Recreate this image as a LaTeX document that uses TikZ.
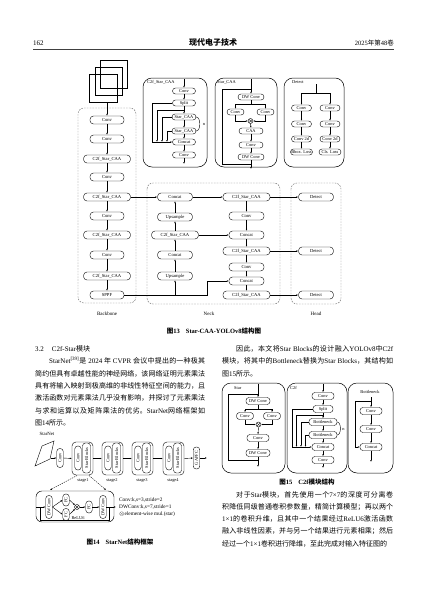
\documentclass[tikz,border=0pt]{standalone}
\usepackage{fontspec}
\setmainfont{Liberation Serif}
\newfontfamily\cjk{Noto Sans CJK SC}
\usetikzlibrary{arrows.meta}
\XeTeXinterchartokenstate=1
\newXeTeXintercharclass\CJKcls
\makeatletter
\count@="3000
\loop \XeTeXcharclass\count@=\CJKcls \ifnum\count@<"303F \advance\count@ by 1 \repeat
\count@="4E00
\loop \XeTeXcharclass\count@=\CJKcls \ifnum\count@<"9FFF \advance\count@ by 1 \repeat
\count@="FF00
\loop \XeTeXcharclass\count@=\CJKcls \ifnum\count@<"FFEF \advance\count@ by 1 \repeat
\makeatother
\XeTeXinterchartoks 0 \CJKcls = {\begingroup\cjk}
\XeTeXinterchartoks 4095 \CJKcls = {\begingroup\cjk}
\XeTeXinterchartoks \CJKcls 0 = {\endgroup}
\XeTeXinterchartoks \CJKcls 4095 = {\endgroup}
\XeTeXlinebreaklocale "zh"
\XeTeXlinebreakskip=0pt plus 2pt minus 0.2pt
\newcommand\dtxt{\fontsize{4.6}{5}\selectfont}
\newcommand\stxt{\fontsize{4.4}{5}\selectfont}
\newcommand\bodytxt{\fontsize{7}{12.3}\selectfont}
\begin{document}
\begin{tikzpicture}[x=1pt,y=-1pt,
  every node/.style={inner sep=0pt},
  ln/.style={line width=0.4pt},
  arr/.style={line width=0.4pt,-{Latex[length=2pt,width=1.6pt]}},
  pill/.style={draw,line width=0.4pt,rounded corners=3.5pt,minimum height=8pt,font=\dtxt},
  sp/.style={draw,line width=0.4pt,rounded corners=3pt,minimum height=6pt,font=\stxt},
  vp/.style={draw,line width=0.4pt,rounded corners=3pt,minimum width=6.5pt,font=\stxt},
  panel/.style={draw,line width=0.5pt,rounded corners=9pt},
  dbox/.style={draw=black!55,line width=0.45pt,dash pattern=on 1.6pt off 1.2pt,rounded corners=6pt},
  otm/.style={draw,circle,line width=0.4pt,minimum size=5pt,
    path picture={\draw[line width=0.35pt] ([shift={(-1.7pt,-1.7pt)}]path picture bounding box.center) -- ([shift={(1.7pt,1.7pt)}]path picture bounding box.center);
      \draw[line width=0.35pt] ([shift={(-1.7pt,1.7pt)}]path picture bounding box.center) -- ([shift={(1.7pt,-1.7pt)}]path picture bounding box.center);}},
  lbl/.style={font=\stxt},
  body/.style={anchor=base west,align=justify,font=\bodytxt},
  capt/.style={anchor=base,font=\fontsize{6.5}{7}\selectfont\bfseries}]
\fill[white] (0,0) rectangle (427,594);
\useasboundingbox (0,0) rectangle (427,594);
% ---------- header ----------
\node[anchor=base west,font=\fontsize{7}{8}\selectfont] (pg) at (33,45.7) {162};
\node[anchor=base,font=\fontsize{8}{9}\selectfont\bfseries] (jn) at (213,46) {现代电子技术};
\node[anchor=base east,font=\fontsize{6.5}{7}\selectfont] (vol) at (394,45.7) {2025年第48卷};
\draw[line width=0.9pt,black!75] (33,49.5) -- (394,49.5);
% ---------- Fig 13 ----------
\draw[ln] (100,60) rectangle (127,88);
\draw[ln] (95,67) rectangle (122,95);
\draw[ln] (89,74) rectangle (117,102);
\coordinate (imgb) at (107,102);
\draw[dbox] (78,108) rectangle (136,303);
\draw[dbox] (147,183) rectangle (280,304);
\draw[dbox] (291,183) rectangle (341,304);
\node[pill,minimum width=34pt] (b1) at (107,120) {Conv};
\node[pill,minimum width=34pt] (b2) at (107,139) {Conv};
\node[pill,minimum width=47pt] (b3) at (107,159) {C2f\_Star\_CAA};
\node[pill,minimum width=34pt] (b4) at (107,177) {Conv};
\node[pill,minimum width=47pt] (b5) at (107,197) {C2f\_Star\_CAA};
\node[pill,minimum width=34pt] (b6) at (107,216) {Conv};
\node[pill,minimum width=47pt] (b7) at (107,235) {C2f\_Star\_CAA};
\node[pill,minimum width=34pt] (b8) at (107,255) {Conv};
\node[pill,minimum width=47pt] (b9) at (107,276) {C2f\_Star\_CAA};
\node[pill,minimum width=34pt] (b10) at (107,295) {SPPF};
\draw[arr] (imgb) -- (b1.north);
\foreach \a/\b in {b1/b2,b2/b3,b3/b4,b4/b5,b5/b6,b6/b7,b7/b8,b8/b9,b9/b10} \draw[arr] (\a.south) -- (\b.north);
\node[pill,minimum width=35pt] (n1) at (175,197) {Concat};
\node[pill,minimum width=35pt] (n2) at (175,217) {Upsample};
\node[pill,minimum width=47pt] (n3) at (175,235) {C2f\_Star\_CAA};
\node[pill,minimum width=35pt] (n4) at (175,255) {Concat};
\node[pill,minimum width=35pt] (n5) at (175,276) {Upsample};
\node[pill,minimum width=47pt] (r1) at (246.5,197) {C2f\_Star\_CAA};
\node[pill,minimum width=35pt] (r2) at (246.5,216) {Conv};
\node[pill,minimum width=35pt] (r3) at (246.5,235) {Concat};
\node[pill,minimum width=47pt] (r4) at (246.5,251) {C2f\_Star\_CAA};
\node[pill,minimum width=35pt] (r5) at (246.5,267) {Conv};
\node[pill,minimum width=35pt] (r6) at (246.5,281) {Concat};
\node[pill,minimum width=47pt] (r7) at (246.5,295) {C2f\_Star\_CAA};
\node[pill,minimum width=35pt] (d1) at (316,197) {Detect};
\node[pill,minimum width=35pt] (d2) at (316,251) {Detect};
\node[pill,minimum width=35pt] (d3) at (316,295) {Detect};
\draw[arr] (b5.east) -- (n1.west);
\draw[arr] (b10.east) -| (n5.south);
\coordinate (sp1) at (207,295);
\draw[arr] (n5.south |- b10.east) -- (sp1) |- (r6.west);
\foreach \a/\b in {n5/n4,n4/n3,n3/n2,n2/n1} \draw[arr] (\a.north) -- (\b.south);
\draw[arr] (n3.east) -- (r3.west);
\draw[arr] (n1.east) -- (r1.west);
\foreach \a/\b in {r1/r2,r2/r3,r3/r4,r4/r5,r5/r6,r6/r7} \draw[arr] (\a.south) -- (\b.north);
\draw[arr] (r1.east) -- (d1.west);
\draw[arr] (r4.east) -- (d2.west);
\draw[arr] (r7.east) -- (d3.west);
\node[lbl,font=\fontsize{5}{6}\selectfont] (lb1) at (107,314) {Backbone};
\node[lbl,font=\fontsize{5}{6}\selectfont] (lb2) at (209,314) {Neck};
\node[lbl,font=\fontsize{5}{6}\selectfont] (lb3) at (316,314) {Head};
% C2f_Star_CAA panel
\draw[panel] (143,78) rectangle (207,167);
\node[lbl,anchor=west] (t1) at (147,82.5) {C2f\_Star\_CAA};
\coordinate (pin) at (184,79);
\node[sp,minimum width=23pt] (p1) at (184,91) {Conv};
\node[sp,minimum width=23pt] (p2) at (184,103) {Split};
\node[sp,minimum width=24pt] (p3) at (184,117) {Star\_CAA};
\node[sp,minimum width=24pt] (p4) at (184,131) {Star\_CAA};
\node[sp,minimum width=23pt] (p5) at (184,142) {Concat};
\node[sp,minimum width=23pt] (p6) at (184,155) {Conv};
\coordinate (pout) at (184,164);
\draw[arr] (pin) -- (p1.north);
\foreach \a/\b in {p1/p2,p2/p3,p3/p4,p4/p5,p5/p6} \draw[arr] (\a.south) -- (\b.north);
\draw[arr] (p6.south) -- (pout);
\draw[arr] (p2.west) -- (152,103) -- (152,142) -- (p5.west);
\draw[arr] (184,110) -| (157,142);
\draw[arr] (p3.west) -| (162,142);
\draw[arr] (p4.west) -| (167,142);
\draw[ln] (p3.east) .. controls (201,117) and (201,131) .. (p4.east);
\node[lbl] (nn1) at (204,124) {n};
% Star_CAA panel
\draw[panel] (215,78) rectangle (277,167);
\node[lbl,anchor=west] (t2) at (217,82.5) {Star\_CAA};
\coordinate (qin) at (251,79);
\node[sp,minimum width=26pt] (s1) at (251,97) {DW Conv};
\node[sp,minimum width=17pt] (s2) at (235.5,112) {Conv};
\node[sp,minimum width=17pt] (s3) at (265.5,112) {Conv};
\node[otm] (m1) at (250.5,121) {};
\node[sp,minimum width=24pt] (s4) at (251,131) {CAA};
\node[sp,minimum width=24pt] (s5) at (251,145) {Conv};
\node[sp,minimum width=26pt] (s6) at (251,157) {DW Conv};
\coordinate (qout) at (251,169);
\draw[arr] (qin) -- (s1.north);
\draw[ln] (251,89) -- (222,89) -- (222,164) -- (251,164);
\draw[ln] (s1.south) -- (251,104.5);
\draw[arr] (251,104.5) -| (s2.north);
\draw[arr] (251,104.5) -| (s3.north);
\draw[arr] (s2.south) |- (m1.west);
\draw[arr] (s3.south) |- (m1.east);
\draw[arr] (m1.south) -- (s4.north);
\draw[arr] (s4.south) -- (s5.north);
\draw[arr] (s5.south) -- (s6.north);
\draw[arr] (s6.south) -- (qout);
% Detect panel
\draw[panel] (284,78) rectangle (344,167);
\node[lbl,anchor=west] (t3) at (292,82.5) {Detect};
\coordinate (din) at (316,84);
\draw[ln] (din) -- (316,93);
\draw[ln] (301.5,93) -- (330,93);
\node[sp,minimum width=20pt] (u1) at (301.5,108) {Conv};
\node[sp,minimum width=20pt] (u2) at (301.5,124) {Conv};
\node[sp,minimum width=20pt] (u3) at (301.5,139) {Conv 2d};
\node[sp,minimum width=22pt] (u4) at (301.5,152) {Bbox. Loss};
\node[sp,minimum width=20pt] (v1) at (330,108) {Conv};
\node[sp,minimum width=20pt] (v2) at (330,124) {Conv};
\node[sp,minimum width=20pt] (v3) at (330,139) {Conv 2d};
\node[sp,minimum width=22pt] (v4) at (330,152) {Cls. Loss};
\draw[arr] (301.5,93) -- (u1.north);
\draw[arr] (330,93) -- (v1.north);
\foreach \a/\b in {u1/u2,u2/u3,u3/u4,v1/v2,v2/v3,v3/v4} \draw[arr] (\a.south) -- (\b.north);
\node[capt] (cap13) at (214,333.3) {图13\hspace{6pt}Star-CAA-YOLOv8结构图};
% ---------- left column text ----------
\node[anchor=base west,font=\fontsize{7}{8}\selectfont] (h32) at (35,351.5) {3.2\hspace{8pt}C2f-Star模块};
\node[body,text width=170pt] (para1) at (35,363.8) {\hspace*{14pt}StarNet\textsuperscript{[39]}是 2024 年 CVPR 会议中提出的一种极其\linebreak
简约但具有卓越性能的神经网络，该网络证明元素乘法\linebreak
具有将输入映射到极高维的非线性特征空间的能力，且\linebreak
激活函数对元素乘法几乎没有影响，并探讨了元素乘法\linebreak
与求和运算以及矩阵乘法的优劣。StarNet网络框架如\linebreak
图14所示。};
% ---------- right column text ----------
\node[body,text width=171pt] (para2) at (222,351.5) {\hspace*{14pt}因此，本文将Star Blocks的设计融入YOLOv8中C2f\linebreak
模块，将其中的Bottleneck替换为Star Blocks，其结构如\linebreak
图15所示。};
\node[body,text width=171pt] (para3) at (222,497) {\parfillskip=0pt\hspace*{14pt}对于Star模块，首先使用一个7×7的深度可分离卷\linebreak
积降低同级普通卷积参数量，精简计算模型；再以两个\linebreak
1×1的卷积升维，且其中一个结果经过ReLU6激活函数\linebreak
融入非线性因素，并与另一个结果进行元素相乘；然后\linebreak
经过一个1×1卷积进行降维，至此完成对输入特征图的};
% ---------- Fig 14 ----------
\node[lbl,font=\fontsize{4.8}{5}\selectfont] (snl) at (47,434) {StarNet};
\draw[ln] (35,466) -- (42,446) -- (54,441) -- (50,459) -- cycle;
\coordinate (pl) at (50.5,458);
\node[vp,minimum height=19pt] (c0) at (60,458) {\rotatebox{90}{Conv}};
\draw[arr] (pl) -- (c0.west);
\foreach \i/\L/\lx in {1/72/83,2/102/112,3/132/142,4/163/173}{
  \node[draw,line width=0.4pt,rounded corners=4pt,minimum width=21pt,minimum height=33pt] (st\i) at (\L+10.5,458.5) {};
  \node[vp,minimum height=24pt] (sc\i) at (\L+6,458) {\rotatebox{90}{Conv}};
  \node[vp,minimum width=8pt,minimum height=30pt] (sb\i) at (\L+14.5,458) {\rotatebox{90}{Star Blocks}};
  \node[lbl] (sl\i) at (\lx,481) {stage\i};
}
\node[vp,minimum height=22pt] (gap) at (196.5,458) {\rotatebox{90}{GAPFC}};
\coordinate (gout) at (207,458);
\draw[arr] (c0.east) -- (st1.west);
\draw[arr] (st1.east) -- (st2.west);
\draw[arr] (st2.east) -- (st3.west);
\draw[arr] (st3.east) -- (st4.west);
\draw[arr] (st4.east) -- (gap.west);
\draw[arr] (gap.east) -- (gout);
\coordinate (da1) at (77,475.5);
\coordinate (da2) at (50,490);
\coordinate (db1) at (89,475.5);
\coordinate (db2) at (106,490);
\draw[arr,dash pattern=on 1.3pt off 1pt] (da1) -- (da2);
\draw[arr,dash pattern=on 1.3pt off 1pt] (db1) -- (db2);
\node[draw,line width=0.45pt,rounded corners=6pt,minimum width=78pt,minimum height=31pt] (lbx) at (75,506.5) {};
\node[vp,minimum height=23pt] (dl) at (49,507) {\rotatebox{90}{DW Conv}};
\node[vp,minimum height=12pt] (fa) at (66,500) {\rotatebox{90}{FC}};
\node[vp,minimum height=12pt] (fb) at (66,514.5) {\rotatebox{90}{FC}};
\node[otm] (mm) at (77,507) {};
\node[vp,minimum height=12pt] (fc) at (89,507) {\rotatebox{90}{FC}};
\node[vp,minimum height=23pt] (dr) at (103,507) {\rotatebox{90}{DW Conv}};
\node[lbl] (relu) at (78,518.5) {ReLU6};
\coordinate (lin) at (36,507);
\coordinate (lout) at (116,507);
\draw[arr] (lin) -- (dl.west);
\draw[ln] (40,507) -- (40,520) -- (109,520) -- (109,507);
\draw[arr] (dl.east) -- (fa.west);
\draw[arr] (dl.east) -- (fb.west);
\draw[arr] (fa.east) -- (mm);
\draw[arr] (fb.east) -- (mm);
\draw[arr] (mm) -- (fc.west);
\draw[arr] (fc.east) -- (dr.west);
\draw[arr] (dr.east) -- (lout);
\node[anchor=west,font=\fontsize{5.3}{6}\selectfont] (lg1) at (119,500) {Conv:k,s=3,stride=2};
\node[anchor=west,font=\fontsize{5.3}{6}\selectfont] (lg2) at (119,507) {DWConv:k,s=7,stride=1};
\node[anchor=west,font=\fontsize{5.3}{6}\selectfont] (lg3) at (119,514) {$\otimes$element-wise mul.(star)};
\node[capt] (cap14) at (120,544.3) {图14\hspace{6pt}StarNet结构框架};
% ---------- Fig 15 ----------
\draw[panel] (222,383) rectangle (285,473);
\node[lbl,anchor=west] (f0) at (234,388) {Star};
\coordinate (fin) at (258,384);
\node[sp,minimum height=7pt,minimum width=24pt] (f1) at (258,401) {DW Conv};
\node[sp,minimum height=7pt,minimum width=17pt] (f2) at (245,416) {Conv};
\node[sp,minimum height=7pt,minimum width=17pt] (f3) at (272,416) {Conv};
\node[otm] (fm) at (258.5,424.5) {};
\node[sp,minimum height=7pt,minimum width=22pt] (f4) at (258,438) {Conv};
\node[sp,minimum height=7pt,minimum width=24pt] (f5) at (258,453) {DW Conv};
\coordinate (fout) at (258,467);
\draw[arr] (fin) -- (f1.north);
\draw[ln] (258,394) -- (228,394) -- (228,460) -- (258,460);
\draw[ln] (f1.south) -- (258,409);
\draw[arr] (258,409) -| (f2.north);
\draw[arr] (258,409) -| (f3.north);
\draw[arr] (f2.south) |- (fm.west);
\draw[arr] (f3.south) |- (fm.east);
\draw[arr] (fm.south) -- (f4.north);
\draw[arr] (f4.south) -- (f5.north);
\draw[arr] (f5.south) -- (fout);
\draw[panel] (287,383) rectangle (347,473);
\node[lbl,anchor=west] (g0) at (290,388) {C2f};
\coordinate (gin) at (323,384);
\node[sp,minimum height=7pt,minimum width=22pt] (g1) at (323,396) {Conv};
\node[sp,minimum height=7pt,minimum width=20pt] (g2) at (323,409) {Split};
\node[sp,minimum height=7pt,minimum width=28pt] (g3) at (323,422) {Bottleneck};
\node[sp,minimum height=7pt,minimum width=28pt] (g4) at (323,435) {Bottleneck};
\node[sp,minimum height=7pt,minimum width=22pt] (g5) at (323,447) {Concat};
\node[sp,minimum height=7pt,minimum width=22pt] (g6) at (323,460) {Conv};
\coordinate (gout2) at (323,468);
\draw[arr] (gin) -- (g1.north);
\foreach \a/\b in {g1/g2,g2/g3,g3/g4,g4/g5,g5/g6} \draw[arr] (\a.south) -- (\b.north);
\draw[arr] (g6.south) -- (gout2);
\draw[arr] (g2.west) -- (292,409) -- (292,447) -- (g5.west);
\draw[arr] (323,415.5) -| (296.5,447);
\draw[arr] (g3.west) -| (301,447);
\draw[arr] (g4.west) -| (305.5,447);
\draw[ln] (g3.east) .. controls (341.5,422) and (341.5,435) .. (g4.east);
\node[lbl] (nn2) at (343.5,429) {n};
\draw[panel] (348,383) rectangle (393,473);
\node[lbl] (h0) at (370,392) {Bottleneck};
\coordinate (hin) at (371,397);
\node[sp,minimum height=7pt,minimum width=22pt] (h1) at (371,411) {Conv};
\node[sp,minimum height=7pt,minimum width=22pt] (h2) at (371,429) {Conv};
\node[sp,minimum height=7pt,minimum width=22pt] (h3) at (371,447) {Concat};
\coordinate (hout) at (371,462);
\draw[arr] (hin) -- (h1.north);
\draw[arr] (371,401) -- (355,401) -- (355,447) -- (h3.west);
\draw[arr] (h1.south) -- (h2.north);
\draw[arr] (h2.south) -- (h3.north);
\draw[arr] (h3.south) -- (hout);
\node[capt] (cap15) at (307,484.3) {图15\hspace{6pt}C2f模块结构};
\end{tikzpicture}
\end{document}
